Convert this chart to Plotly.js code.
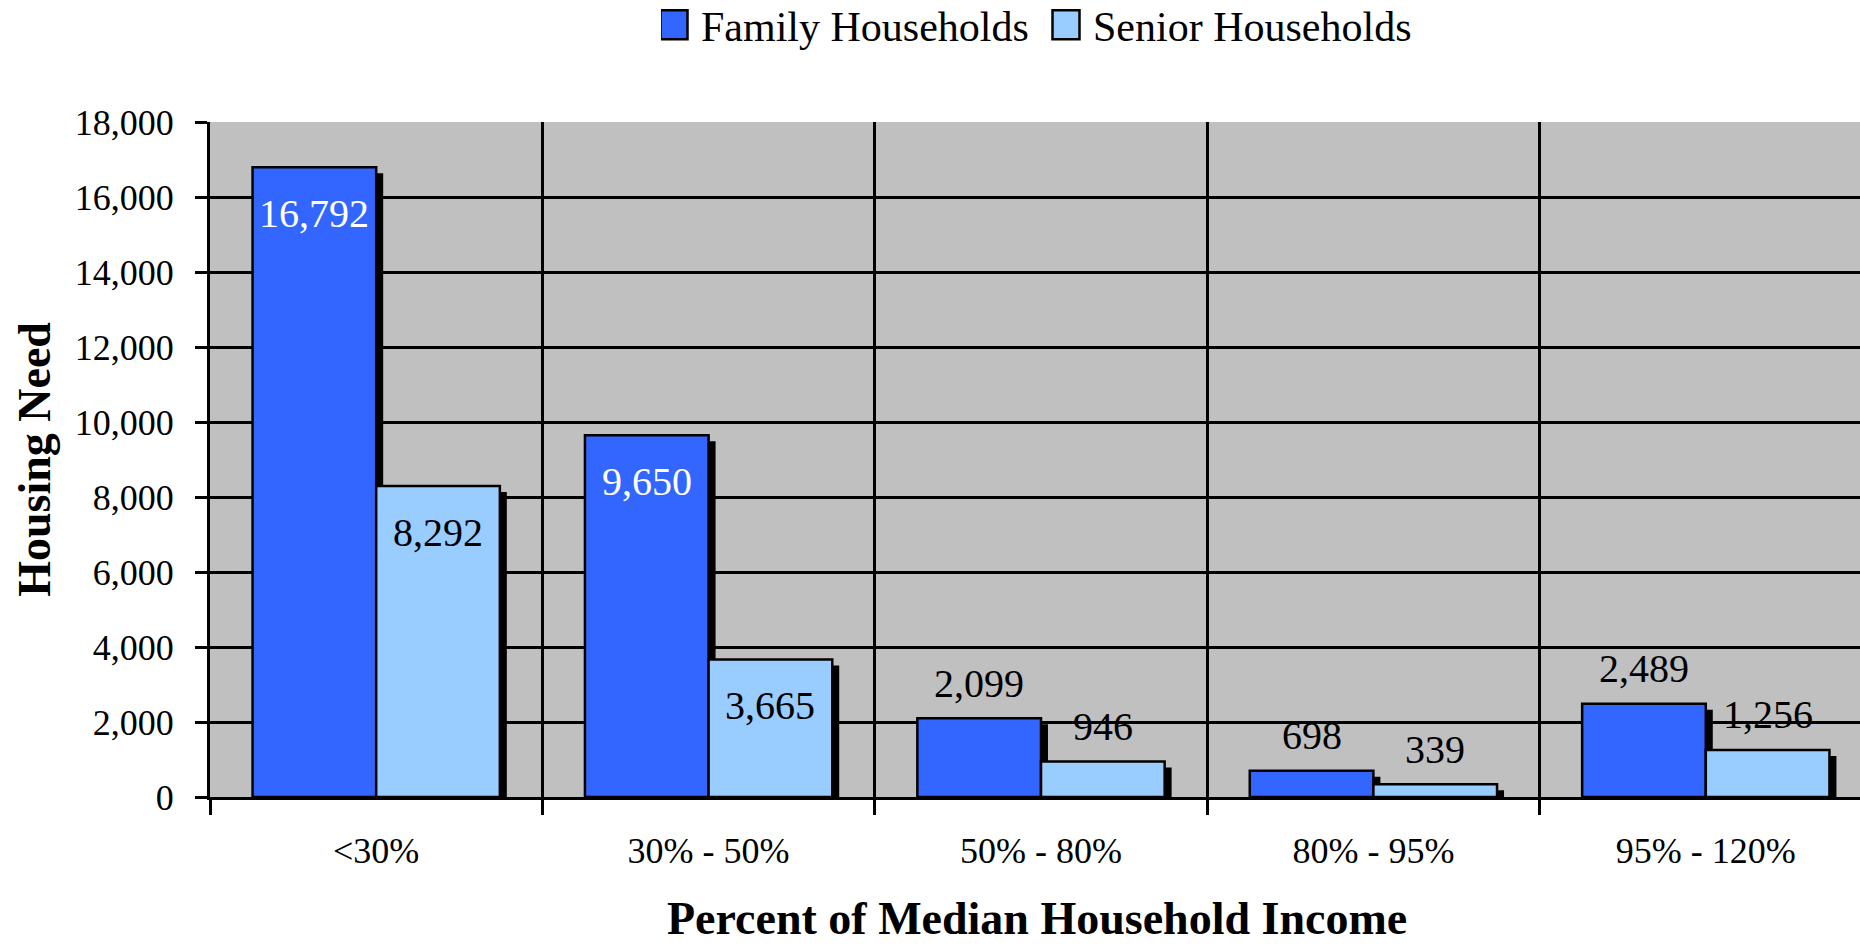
<!DOCTYPE html>
<html>
<head>
<meta charset="utf-8">
<script src="https://cdn.plot.ly/plotly-3.0.1.min.js"></script>
<style>
html, body { margin: 0; padding: 0; background: #fff; overflow: hidden; width: 1860px; height: 946px; }
#chart { width: 1872px; height: 946px; }
</style>
</head>
<body>
<div id="chart"></div>
<script>
// ---- data ----
const categories = ["<30%", "30% - 50%", "50% - 80%", "80% - 95%", "95% - 120%"];
const familyValues = [16792, 9650, 2099, 698, 2489];
const seniorValues = [8292, 3665, 946, 339, 1256];
const seriesNames = ["Family Households", "Senior Households"];
const yTickValues = [0, 2000, 4000, 6000, 8000, 10000, 12000, 14000, 16000, 18000];
const xTitle = 'Percent of Median Household Income';
const yTitle = 'Housing Need';

// ---- style ----
const FONT = '"Liberation Serif", "Times New Roman", serif';
const familyColor = '#3366FF';
const seniorColor = '#99CCFF';
const barW = 0.372;
const shadowDx = 0.021;   // in category units (~7px)
const shadowDy = 160;     // in y units (~6px)
const insideThreshold = 3000;

const shadowTrace = (vals, off) => ({
  type: 'bar', x: categories, y: vals.map(v => v - shadowDy),
  offset: off + shadowDx, width: barW,
  marker: { color: '#000', line: { width: 0 } },
  showlegend: false, hoverinfo: 'skip'
});
const mainTrace = (vals, off, color, name) => ({
  type: 'bar', x: categories, y: vals, name: name,
  offset: off, width: barW,
  marker: { color: color, line: { color: '#000', width: 2.5 } }
});

const data = [
  shadowTrace(familyValues, -barW),
  mainTrace(familyValues, -barW, familyColor, seriesNames[0]),
  shadowTrace(seniorValues, 0),
  mainTrace(seniorValues, 0, seniorColor, seriesNames[1])
];

const fmt = v => v.toLocaleString('en-US');
const annotations = [];
const addLabels = (vals, dx, insideColor) => {
  vals.forEach((v, i) => {
    const inside = v > insideThreshold;
    annotations.push({
      x: i + dx, y: v, xref: 'x', yref: 'y',
      text: fmt(v), showarrow: false,
      xanchor: 'center', yanchor: 'middle',
      yshift: inside ? -46 : 35,
      font: { family: FONT, size: 40, color: inside ? insideColor : '#000' }
    });
  });
};
addLabels(familyValues, -barW / 2, '#fff');
addLabels(seniorValues, barW / 2, '#000');

// x-axis title placed as a paper annotation
annotations.push({
  xref: 'paper', yref: 'paper', x: 0.4976, y: -0.1807,
  xanchor: 'center', yanchor: 'middle', showarrow: false,
  text: '<b>' + xTitle + '</b>',
  font: { family: FONT, size: 46, color: '#000' }
});

const layout = {
  width: 1872, height: 946,
  margin: { l: 210, r: 0, t: 122, b: 149, pad: 0, autoexpand: false },
  paper_bgcolor: '#fff',
  plot_bgcolor: '#C0C0C0',
  barmode: 'overlay',
  font: { family: FONT, color: '#000' },
  showlegend: true,
  legend: {
    orientation: 'h',
    xref: 'container', yref: 'container',
    x: 661 / 1872, xanchor: 'left', y: 1 - 25 / 946, yanchor: 'middle',
    entrywidth: 347, entrywidthmode: 'pixels',
    font: { family: FONT, size: 42, color: '#000' },
    bgcolor: 'rgba(0,0,0,0)', traceorder: 'normal', borderwidth: 0
  },
  xaxis: {
    type: 'category', range: [-0.5, 4.5],
    tickson: 'boundaries', ticks: 'outside', ticklen: 15, tickwidth: 3, tickcolor: '#000',
    showgrid: true, gridcolor: '#000', gridwidth: 3,
    showline: true, linecolor: '#000', linewidth: 3,
    tickfont: { family: FONT, size: 36, color: '#000' },
    ticklabelstandoff: 20
  },
  yaxis: {
    range: [0, 18000], tickvals: yTickValues, tickformat: ',d',
    ticks: 'outside', ticklen: 12, tickwidth: 3, tickcolor: '#000',
    showgrid: true, gridcolor: '#000', gridwidth: 3,
    zeroline: false,
    showline: true, linecolor: '#000', linewidth: 3,
    tickfont: { family: FONT, size: 36, color: '#000' },
    ticklabelstandoff: 14,
    title: { text: yTitle, font: { family: FONT, size: 46, color: '#000', weight: 'bold' }, standoff: 10 }
  },
  annotations: annotations
};

Plotly.newPlot('chart', data, layout, { displayModeBar: false, staticPlot: true }).then(() => {
  document.querySelectorAll('.legend .legendpoints path').forEach(p => {
    p.setAttribute('d', 'M6.5,14.5H-20.5V-14.5H6.5Z');
    p.style.strokeWidth = '2.5px';
  });
});
</script>
</body>
</html>
